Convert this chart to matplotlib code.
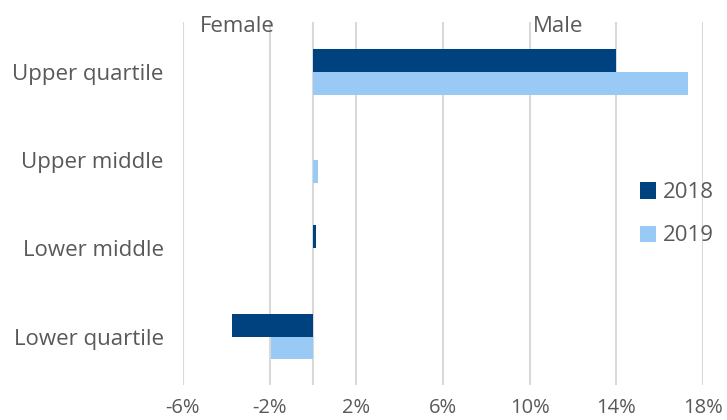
import numpy as np
import matplotlib.pyplot as plt

categories = ["Upper quartile", "Upper middle", "Lower middle", "Lower quartile"]
gap_2018 = [14.0, 0.02, 0.15, -3.75]
gap_2019 = [17.3, 0.25, 0.02, -1.95]
ticks = [-6, -2, 2, 6, 10, 14, 18]
tick_labels = ["-6%", "-2%", "2%", "6%", "10%", "14%", "18%"]

plt.rcParams['font.family'] = ['Open Sans', 'DejaVu Sans']
grey = '#595959'

fig = plt.figure(figsize=(7.27, 4.2), dpi=100)
ax = fig.add_axes([0.2517, 0.0833, 0.7153, 0.8647])

y = np.arange(len(categories))
h = 0.26
ax.barh(y - h / 2, gap_2018, height=h, color='#00427F', label='2018', zorder=3)
ax.barh(y + h / 2, gap_2019, height=h, color='#99C9F5', label='2019', zorder=3)

ax.set_xlim(-6, 18)
ax.set_ylim(3.55, -0.57)
ax.set_xticks(ticks)
ax.set_xticklabels(tick_labels)
ax.set_yticks(y)
ax.set_yticklabels(categories)
ax.tick_params(axis='both', length=0, colors=grey)
ax.tick_params(axis='y', pad=14, labelsize=16)
ax.tick_params(axis='x', pad=9, labelsize=14.5)

for t in ticks:
    ax.axvline(t, color='#D9D9D9', linewidth=1.5, zorder=1)
ax.axvline(0, color='#D9D9D9', linewidth=1.5, zorder=2)
for s in ax.spines.values():
    s.set_visible(False)

ax.text(-3.5, -0.52, "Female", ha='center', va='center', fontsize=16, color=grey)
ax.text(11.3, -0.52, "Male", ha='center', va='center', fontsize=16, color=grey)

leg = ax.legend(loc='center left', bbox_to_anchor=(0.84, 0.47), frameon=False,
                fontsize=16, handlelength=0.75, handleheight=0.75,
                handletextpad=0.3, labelspacing=1.0, labelcolor=grey)

plt.savefig('out.png', dpi=100)
